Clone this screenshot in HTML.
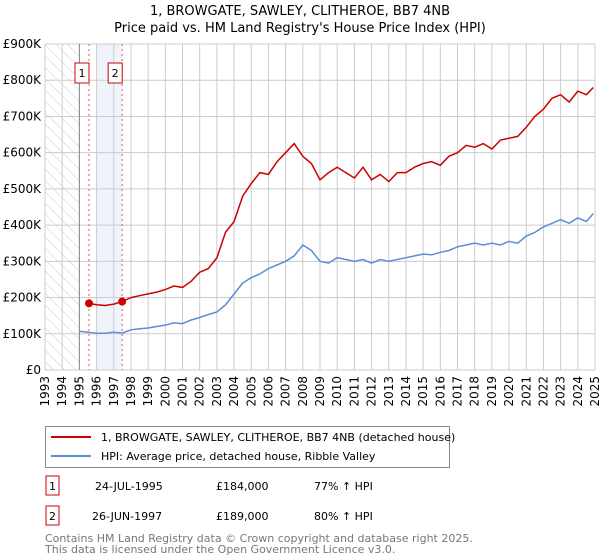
<!DOCTYPE html>
<html><head><meta charset="utf-8"><style>
body{margin:0;background:#fff;font-family:"Liberation Sans","DejaVu Sans",sans-serif;}
svg{display:block}
</style></head><body>
<svg width="600" height="560" xmlns="http://www.w3.org/2000/svg" font-family="DejaVu Sans, Liberation Sans, sans-serif">
<defs><pattern id="hatch" width="8" height="8" patternUnits="userSpaceOnUse" patternTransform="rotate(-45)"><line x1="0" y1="0" x2="0" y2="8" stroke="#ccc" stroke-width="1"/></pattern></defs>
<text x="300" y="15" text-anchor="middle" font-size="13">1, BROWGATE, SAWLEY, CLITHEROE, BB7 4NB</text>
<text x="300" y="32" text-anchor="middle" font-size="13">Price paid vs. HM Land Registry's House Price Index (HPI)</text>
<g id="grid"></g>
<g id="yaxis"></g>
<g id="xaxis"></g>
<g id="series"></g>
<g>
<rect x="45.5" y="426.5" width="404" height="41" fill="#fff" stroke="#888"/>
<line x1="51" y1="437" x2="91" y2="437" stroke="#cc0000" stroke-width="2"/>
<text x="101" y="441" font-size="11">1, BROWGATE, SAWLEY, CLITHEROE, BB7 4NB (detached house)</text>
<line x1="51" y1="456" x2="91" y2="456" stroke="#5b8ed6" stroke-width="2"/>
<text x="101" y="460" font-size="11">HPI: Average price, detached house, Ribble Valley</text>
</g>
<g font-size="11">
<rect x="46" y="476" width="13" height="19" fill="#fff" stroke="#cc0000"/>
<text x="52.5" y="490" text-anchor="middle">1</text>
<text x="95" y="490">24-JUL-1995</text>
<text x="216" y="490">£184,000</text>
<text x="314" y="490">77% ↑ HPI</text>
<rect x="46" y="506" width="13" height="19" fill="#fff" stroke="#cc0000"/>
<text x="52.5" y="520" text-anchor="middle">2</text>
<text x="92" y="520">26-JUN-1997</text>
<text x="216" y="520">£189,000</text>
<text x="314" y="520">80% ↑ HPI</text>
</g>
<text x="45" y="542" font-size="11" fill="#777">Contains HM Land Registry data © Crown copyright and database right 2025.</text>
<text x="45" y="553" font-size="11" fill="#777">This data is licensed under the Open Government Licence v3.0.</text>
</svg>
<script>
const yTicks=[0,100,200,300,400,500,600,700,800,900];
const yTickLabels=["£0","£100K","£200K","£300K","£400K","£500K","£600K","£700K","£800K","£900K"];
const xYears=[1993,1994,1995,1996,1997,1998,1999,2000,2001,2002,2003,2004,2005,2006,2007,2008,2009,2010,2011,2012,2013,2014,2015,2016,2017,2018,2019,2020,2021,2022,2023,2024,2025];
const saleDates=[1995.56,1997.49];
const salePrices=[184,189];
const saleLabels=["1","2"];
const hpiDates=[1995,1995.5,1996,1996.5,1997,1997.5,1998,1998.5,1999,1999.5,2000,2000.5,2001,2001.5,2002,2002.5,2003,2003.5,2004,2004.5,2005,2005.5,2006,2006.5,2007,2007.5,2008,2008.5,2009,2009.5,2010,2010.5,2011,2011.5,2012,2012.5,2013,2013.5,2014,2014.5,2015,2015.5,2016,2016.5,2017,2017.5,2018,2018.5,2019,2019.5,2020,2020.5,2021,2021.5,2022,2022.5,2023,2023.5,2024,2024.5,2024.9];
const hpiValues=[107,104,101,102,104,102,111,114,116,120,124,130,128,138,145,153,160,180,210,240,255,265,280,290,300,315,345,330,300,295,310,305,300,305,295,305,300,305,310,315,320,318,325,330,340,345,350,345,350,345,355,350,370,380,395,405,415,405,420,410,432];
const priceDates=[1995.56,1996,1996.5,1997,1997.49,1998,1998.5,1999,1999.5,2000,2000.5,2001,2001.5,2002,2002.5,2003,2003.5,2004,2004.5,2005,2005.5,2006,2006.5,2007,2007.5,2008,2008.5,2009,2009.5,2010,2010.5,2011,2011.5,2012,2012.5,2013,2013.5,2014,2014.5,2015,2015.5,2016,2016.5,2017,2017.5,2018,2018.5,2019,2019.5,2020,2020.5,2021,2021.5,2022,2022.5,2023,2023.5,2024,2024.5,2024.9];
const priceValues=[184,180,178,182,189,200,205,210,215,222,232,228,245,270,280,310,380,410,480,515,545,540,575,600,625,590,570,525,545,560,545,530,560,525,540,520,545,545,560,570,575,565,590,600,620,615,625,610,635,640,645,670,700,720,750,760,740,770,760,780];
const NS="http://www.w3.org/2000/svg";
const L=45,R=595,T=44,B=370;
const xs=d=>L+(d-1993)*(R-L)/32;
const ys=v=>B-v*(B-T)/900;
function mk(tag,attrs,parent){const e=document.createElementNS(NS,tag);for(const k in attrs)e.setAttribute(k,attrs[k]);parent.appendChild(e);return e;}
const grid=document.getElementById('grid'),ya=document.getElementById('yaxis'),xa=document.getElementById('xaxis'),se=document.getElementById('series');
// shaded region & hatch
let r=mk('rect',{x:L,y:T,width:xs(1995)-L,height:B-T,fill:'url(#hatch)'},grid);


r=mk('rect',{x:xs(1996),y:T,width:xs(saleDates[1])-xs(1996),height:B-T,fill:'#eef3fc'},grid);


xYears.forEach(y=>{const l=mk('line',{x1:xs(y),x2:xs(y),y1:T,y2:B,stroke:'#ccc'},grid);


const t=mk('text',{x:0,y:0,'font-size':12,'text-anchor':'end',transform:`translate(${xs(y)+4},${B+6}) rotate(-90)`},xa);t.textContent=y;

});
yTicks.forEach((v,i)=>{const l=mk('line',{x1:L,x2:R,y1:ys(v),y2:ys(v),stroke:'#ccc'},grid);


const t=mk('text',{x:L-4,y:ys(v)+4,'font-size':12,'text-anchor':'end'},ya);t.textContent=yTickLabels[i];

});
let bl=mk('line',{x1:xs(1995),x2:xs(1995),y1:T,y2:B,stroke:'#888'},grid);


saleDates.forEach((d,i)=>{const l=mk('line',{x1:xs(d),x2:xs(d),y1:T,y2:B,stroke:'#e55','stroke-dasharray':'2,3'},grid);


const bx=mk('rect',{x:xs(d)-14,y:63,width:14,height:20,fill:'#fff',stroke:'#cc0000'},se);


const t=mk('text',{x:xs(d)-7,y:77,'font-size':11,'text-anchor':'middle'},se);t.textContent=saleLabels[i];

});
const path=(ds,vs)=>ds.map((d,i)=>(i?'L':'M')+xs(d).toFixed(1)+','+ys(vs[i]).toFixed(1)).join('');
let p=mk('path',{d:path(hpiDates,hpiValues),fill:'none',stroke:'#5b8ed6','stroke-width':1.5},se);


p=mk('path',{d:path(priceDates,priceValues),fill:'none',stroke:'#cc0000','stroke-width':1.5},se);


saleDates.forEach((d,i)=>{const c=mk('circle',{cx:xs(d),cy:ys(salePrices[i]),r:4,fill:'#cc0000'},se);

});
</script>
</body></html>
